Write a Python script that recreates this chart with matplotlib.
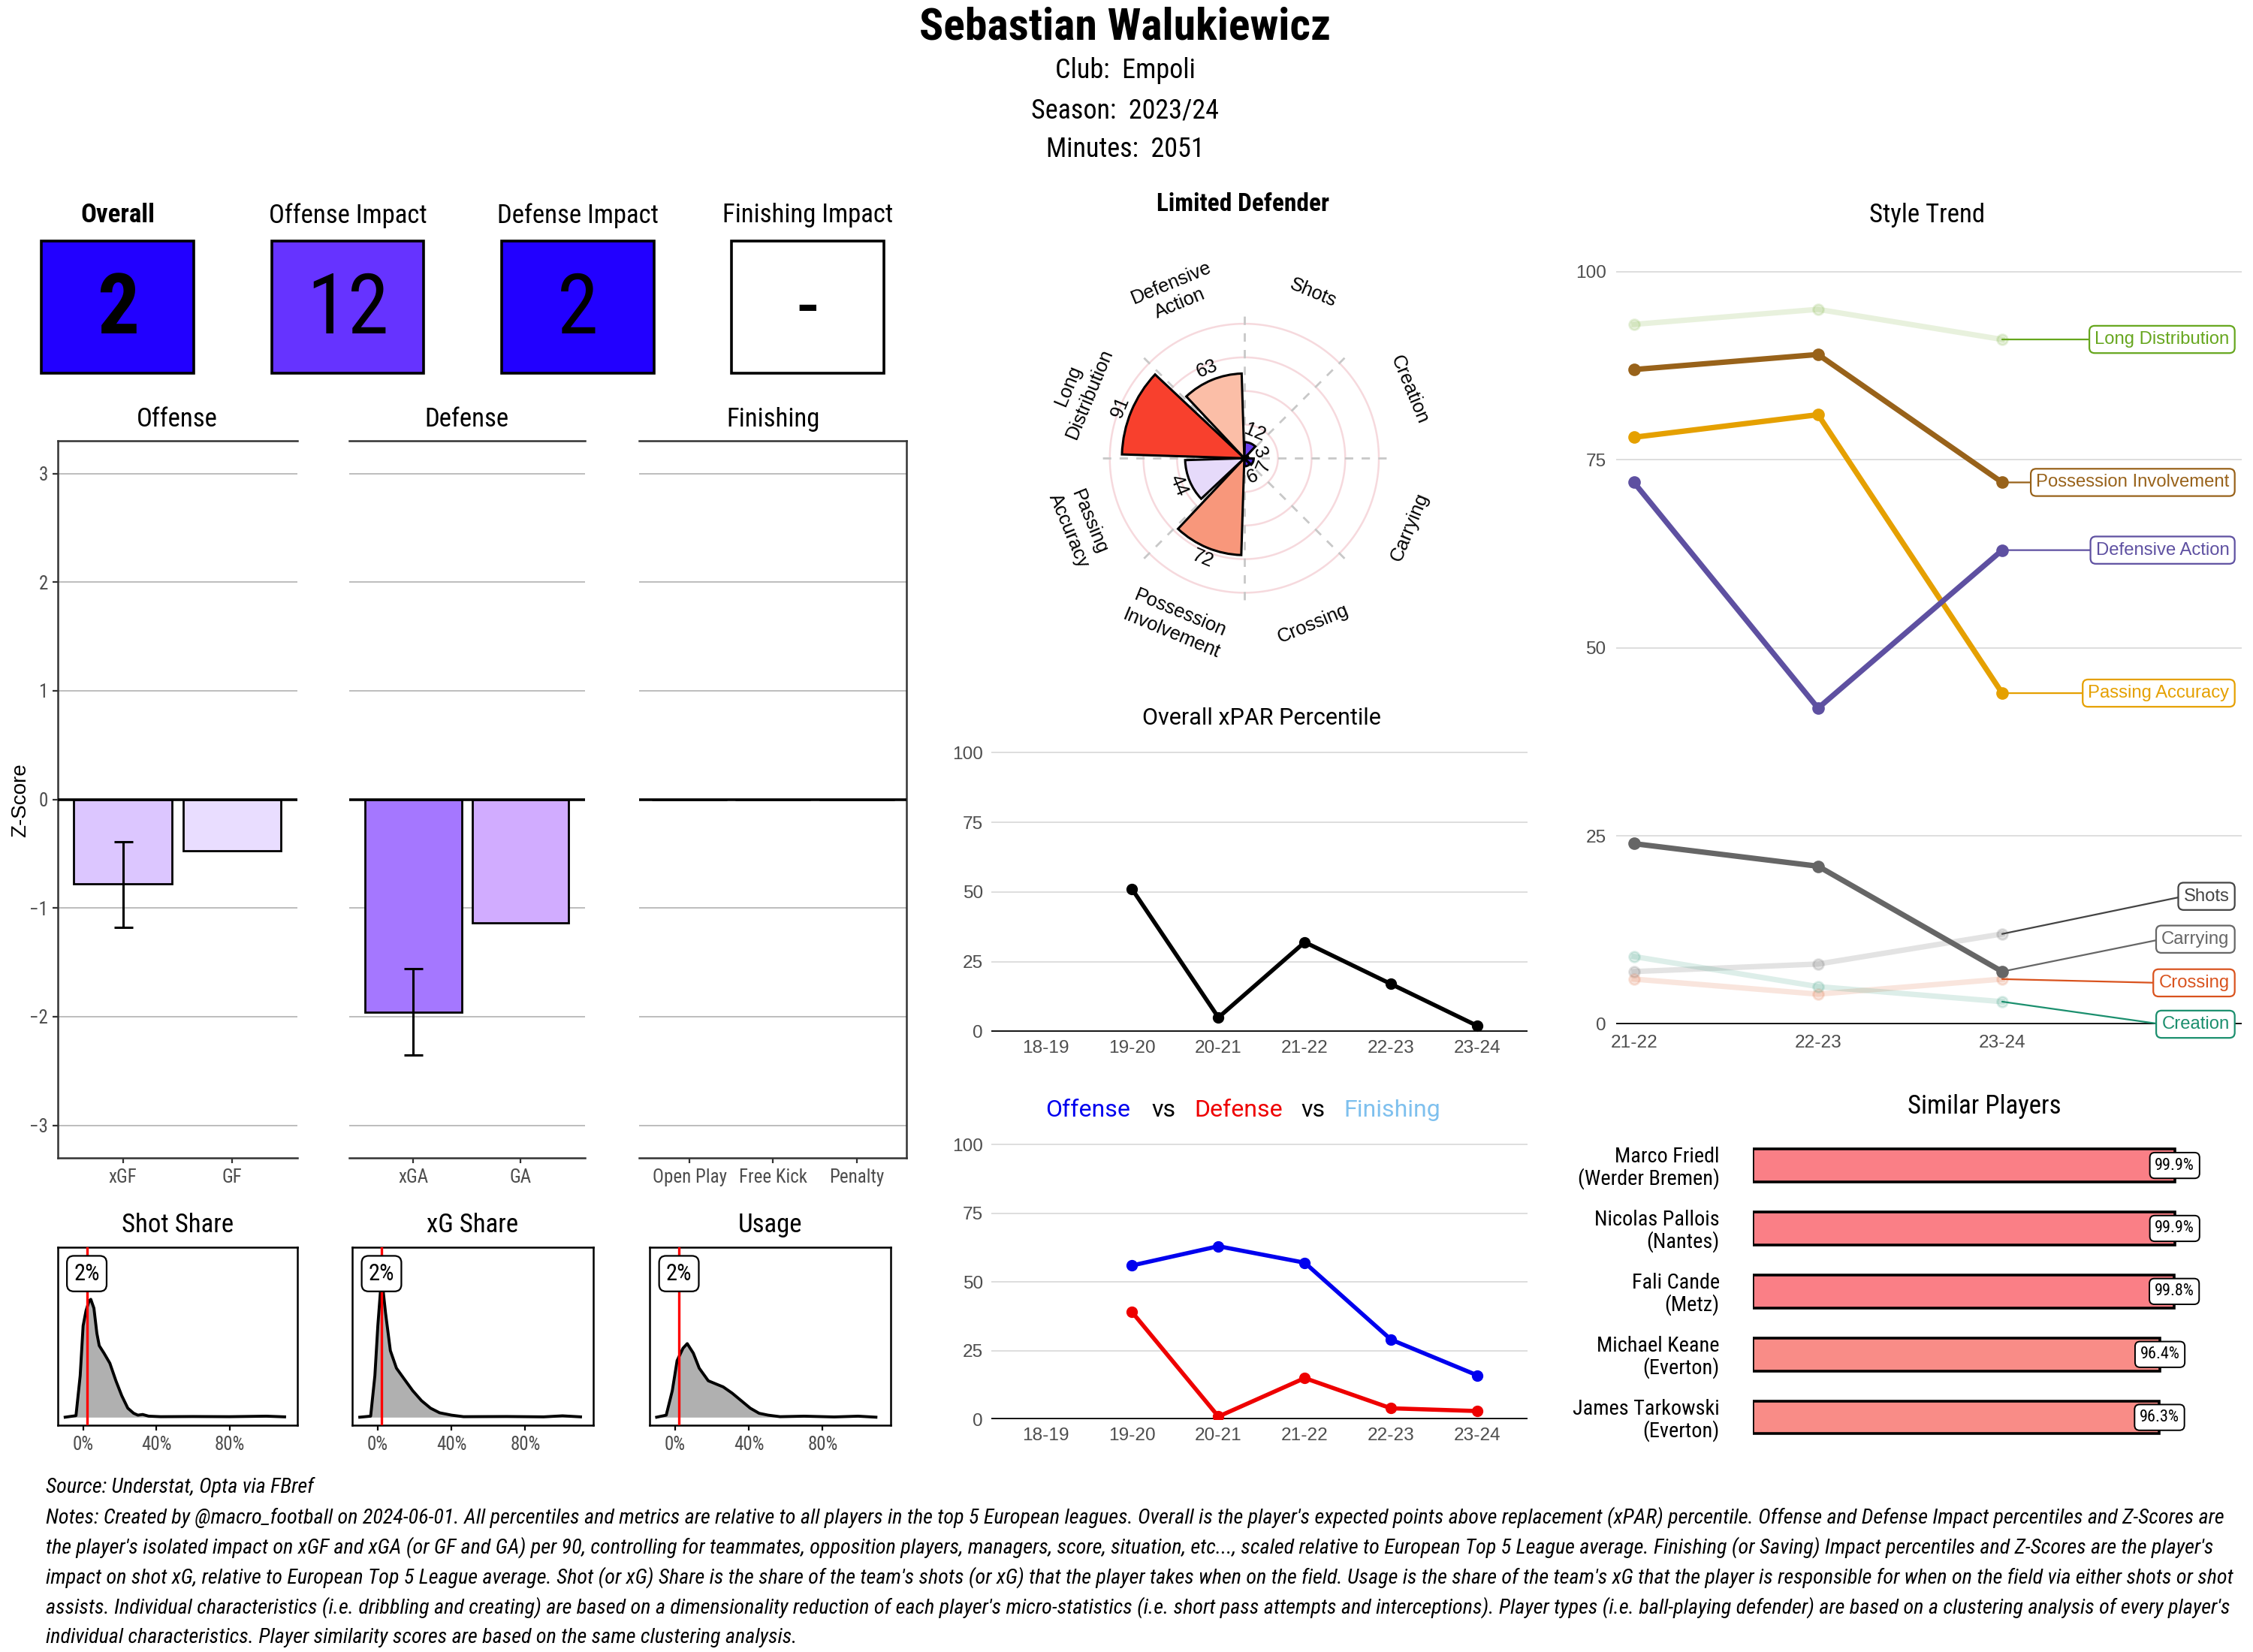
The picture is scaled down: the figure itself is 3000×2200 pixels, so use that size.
import numpy as np
import matplotlib
matplotlib.use("Agg")
import matplotlib.pyplot as plt
from matplotlib import font_manager as fm
from matplotlib.patches import Rectangle
import matplotlib.transforms as mtransforms

# ---------------- fonts ----------------
_names = {f.name for f in fm.fontManager.ttflist}
if "Roboto Condensed" in _names:
    COND, CS = "Roboto Condensed", 1.0
elif "Liberation Sans Narrow" in _names:
    COND, CS = "Liberation Sans Narrow", 1.0
else:
    COND, CS = "Roboto", 0.87
SANS = "Liberation Sans" if "Liberation Sans" in _names else "DejaVu Sans"
ROBO = "Roboto" if "Roboto" in _names else SANS
plt.rcParams["font.family"] = [COND, "DejaVu Sans"]

# ---------------- data ----------------
player = "Sebastian Walukiewicz"
club = "Empoli"
season = "2023/24"
minutes = 2051

summary_titles = ["Overall", "Offense Impact", "Defense Impact", "Finishing Impact"]
summary_values = ["2", "12", "2", "-"]
summary_colors = ["#2200FF", "#6633FF", "#2200FF", "#FFFFFF"]

off_cats = ["xGF", "GF"]
off_z = [-0.78, -0.47]
off_colors = ["#DCC6FF", "#E9DDFF"]
def_cats = ["xGA", "GA"]
def_z = [-1.96, -1.14]
def_colors = ["#A577FF", "#D1ACFF"]
fin_cats = ["Open Play", "Free Kick", "Penalty"]
fin_z = [0.0, 0.0, 0.0]
fin_colors = ["#FFFFFF", "#FFFFFF", "#FFFFFF"]
xgf_err = [-1.18, -0.39]
xga_err = [-2.35, -1.56]

# density curves (x in %, height as share of panel)
shot_x = [-9.8, -3.9, -1.6, 0.0, 1.6, 3.3, 4.2, 5.9, 7.5, 8.8, 11.4, 14.6, 17.9, 21.1, 24.4, 27.6, 29.9, 32.5, 35.8, 42.3, 60, 80, 100, 110]
shot_h = [0.0, 0.009, 0.244, 0.537, 0.626, 0.684, 0.692, 0.640, 0.493, 0.420, 0.376, 0.317, 0.214, 0.126, 0.053, 0.023, 0.012, 0.016, 0.006, 0.003, 0.004, 0.003, 0.006, 0.002]
xg_x = [-9.8, -3.9, -1.6, 0.0, 1.6, 2.6, 4.2, 6.8, 10.1, 14.0, 18.9, 23.7, 28.6, 33.5, 40.0, 46.5, 70, 90, 100.2, 110]
xg_h = [0.0, 0.006, 0.244, 0.537, 0.765, 0.772, 0.611, 0.391, 0.288, 0.229, 0.156, 0.097, 0.053, 0.026, 0.012, 0.003, 0.004, 0.002, 0.008, 0.002]
usage_x = [-10.1, -4.9, -1.6, 1.0, 4.2, 6.5, 9.8, 13.0, 17.9, 22.8, 26.0, 30.9, 35.8, 40.7, 45.5, 50.4, 56.9, 69.9, 86.2, 99.2, 108.9]
usage_h = [0.0, 0.012, 0.156, 0.332, 0.405, 0.432, 0.376, 0.288, 0.214, 0.192, 0.178, 0.141, 0.097, 0.053, 0.023, 0.012, 0.003, 0.006, 0.0015, 0.006, 0.0]
shot_share = 2
xg_share = 2
usage = 2

radar_title = "Limited Defender"
radar_cats = ["Shots", "Creation", "Carrying", "Crossing", "Possession\nInvolvement",
              "Passing\nAccuracy", "Long\nDistribution", "Defensive\nAction"]
radar_vals = [12, 3, 7, 6, 72, 44, 91, 63]
radar_colors = ["#6A3EF0", "#3A12D2", "#4A26DE", "#4520DA", "#F8977B", "#E6DAFA", "#F8402D", "#FBBEA7"]

seasons = ["18-19", "19-20", "20-21", "21-22", "22-23", "23-24"]
xpar = [np.nan, 51, 5, 32, 17, 2]
offense_pct = [np.nan, 56, 63, 57, 29, 16]
defense_pct = [np.nan, 39, 1, 15, 4, 3]

style_seasons = ["21-22", "22-23", "23-24"]
style_names = ["Long Distribution", "Shots", "Crossing", "Creation",
               "Possession Involvement", "Passing Accuracy", "Defensive Action", "Carrying"]
long_dist = [93, 95, 91]
shots = [7, 8, 12]
crossing = [6, 4, 6]
creation = [9, 5, 3]
possession = [87, 89, 72]
passing_acc = [78, 81, 44]
defensive_act = [72, 42, 63]
carrying = [24, 21, 7]
style_highlight = [False, False, False, False, True, True, True, True]
style_colors = ["#66A61E", "#444444", "#D9531E", "#1B8F6E", "#98621A", "#E5A000", "#5E50A1", "#666666"]
style_label_y = [91, 17, 5.5, 0, 72, 44, 63, 11.3]

sim_names = ["Marco Friedl", "Nicolas Pallois", "Fali Cande", "Michael Keane", "James Tarkowski"]
sim_clubs = ["Werder Bremen", "Nantes", "Metz", "Everton", "Everton"]
sim_vals = [99.9, 99.9, 99.8, 96.4, 96.3]
sim_colors = ["#FA7F86", "#FA7F86", "#FA7F86", "#F98C87", "#F98C87"]

source = "Source: Understat, Opta via FBref"
notes = [
    "Notes: Created by @macro_football on 2024-06-01. All percentiles and metrics are relative to all players in the top 5 European leagues. Overall is the player's expected points above replacement (xPAR) percentile. Offense and Defense Impact percentiles and Z-Scores are",
    "the player's isolated impact on xGF and xGA (or GF and GA) per 90, controlling for teammates, opposition players, managers, score, situation, etc..., scaled relative to European Top 5 League average. Finishing (or Saving) Impact percentiles and Z-Scores are the player's",
    "impact on shot xG, relative to European Top 5 League average. Shot (or xG) Share is the share of the team's shots (or xG) that the player takes when on the field. Usage is the share of the team's xG that the player is responsible for when on the field via either shots or shot",
    "assists. Individual characteristics (i.e. dribbling and creating) are based on a dimensionality reduction of each player's micro-statistics (i.e. short pass attempts and interceptions). Player types (i.e. ball-playing defender) are based on a clustering analysis of every player's",
    "individual characteristics. Player similarity scores are based on the same clustering analysis.",
]

# ---------------- layout helpers ----------------
W, H = 1568.0, 1150.0
fig = plt.figure(figsize=(15, 11), dpi=200)
fig.patch.set_facecolor("white")


def R(x0, y0, x1, y1):
    return [x0 / W, 1 - y1 / H, (x1 - x0) / W, (y1 - y0) / H]


def P(x, y):
    return (x / W, 1 - y / H)


def style_ticks(ax, family, size, color="#4D4D4D"):
    for lbl in ax.get_xticklabels() + ax.get_yticklabels():
        lbl.set_family(family)
        lbl.set_fontsize(size)
        lbl.set_color(color)


# ---------------- header ----------------
fig.text(*P(783, 19), player, ha="center", va="center", fontsize=21.5 * CS, fontweight="bold")
fig.text(*P(783, 49), f"Club:  {club}", ha="center", va="center", fontsize=13 * CS)
fig.text(*P(783, 77), f"Season:  {season}", ha="center", va="center", fontsize=13 * CS)
fig.text(*P(783, 104), f"Minutes:  {minutes}", ha="center", va="center", fontsize=13 * CS)

# ---------------- summary boxes ----------------
box_x0 = [29, 189, 349, 509]
for i, (t, v, c) in enumerate(zip(summary_titles, summary_values, summary_colors)):
    x0 = box_x0[i]
    fig.add_artist(Rectangle(P(x0, 260), 106 / W, 92 / H, transform=fig.transFigure,
                             facecolor=c, edgecolor="black", lw=1.3))
    fig.text(*P(x0 + 53, 150), t, ha="center", va="center", fontsize=12.5 * CS,
             fontweight="bold" if i == 0 else "normal")
    fig.text(*P(x0 + 53, 216), v, ha="center", va="center", fontsize=40 * CS,
             fontweight="bold" if i == 0 else "normal")

# ---------------- z-score bars ----------------
panels = [
    ((40, 307, 207, 806), "Offense", off_cats, off_z, off_colors, xgf_err, ("left", "top", "bottom")),
    ((243, 307, 407, 806), "Defense", def_cats, def_z, def_colors, xga_err, ("top", "bottom")),
    ((445, 307, 631, 806), "Finishing", fin_cats, fin_z, fin_colors, None, ("top", "bottom", "right")),
]
for k, (rc, title, cats, vals, cols, err, spines) in enumerate(panels):
    ax = fig.add_axes(R(*rc))
    x = np.arange(len(cats))
    ax.set_yticks(range(-3, 4))
    ax.grid(axis="y", color="#BDBDBD", lw=0.7)
    ax.set_axisbelow(True)
    ax.bar(x, vals, width=0.9, color=cols, edgecolor="black", lw=1.0, zorder=2)
    ax.axhline(0, color="black", lw=1.3, zorder=3)
    if err is not None:
        ax.errorbar([x[0]], [err[0]], yerr=[[0], [err[1] - err[0]]], fmt="none",
                    ecolor="black", elinewidth=1.1, capsize=4.5, capthick=1.1, zorder=4)
    ax.set_xlim(-0.6, len(cats) - 0.4)
    ax.set_ylim(-3.3, 3.3)
    ax.set_xticks(x, cats)
    for s in ["left", "right", "top", "bottom"]:
        ax.spines[s].set_visible(s in spines)
        ax.spines[s].set_color("#333333")
        ax.spines[s].set_linewidth(0.9)
    ax.tick_params(axis="x", length=2.5, width=0.8, pad=2.5, color="#333333")
    if k == 0:
        ax.tick_params(axis="y", length=2.5, width=0.8, pad=2, color="#333333")
    else:
        ax.tick_params(axis="y", length=0, labelleft=False)
    style_ticks(ax, [COND, "DejaVu Sans"], 9 * CS)
    fig.text(*P((rc[0] + rc[2]) / 2, 292), title, ha="center", va="center", fontsize=12.5 * CS)
fig.text(*P(14, 557), "Z-Score", rotation=90, ha="center", va="center", fontsize=10, family=SANS)

# ---------------- density panels ----------------
dens = [
    ((40, 868, 207, 992), "Shot Share", shot_x, shot_h, shot_share),
    ((245, 868, 413, 992), "xG Share", xg_x, xg_h, xg_share),
    ((452, 868, 620, 992), "Usage", usage_x, usage_h, usage),
]
for rc, title, xs, hs, val in dens:
    ax = fig.add_axes(R(*rc))
    xs = np.array(xs) / 100.0
    ax.fill_between(xs, hs, 0, color="#B0B0B0", lw=0, zorder=1)
    ax.plot(xs, hs, color="black", lw=1.4, zorder=2)
    ax.axvline(val / 100.0, color="red", lw=1.2, zorder=3)
    ax.set_xlim(-0.14, 1.17)
    ax.set_ylim(-0.046, 1.0)
    ax.set_xticks([0, 0.4, 0.8], ["0%", "40%", "80%"])
    ax.set_yticks([])
    for s in ax.spines.values():
        s.set_color("black")
        s.set_linewidth(0.9)
    ax.tick_params(axis="x", length=2.5, width=0.8, pad=2.5)
    style_ticks(ax, [COND, "DejaVu Sans"], 9 * CS)
    tr = mtransforms.blended_transform_factory(ax.transData, ax.transAxes)
    ax.text(val / 100.0, 0.85, f"{val}%", transform=tr, ha="center", va="center",
            fontsize=11 * CS, zorder=5,
            bbox=dict(boxstyle="round,pad=0.3", fc="white", ec="black", lw=0.8))
    fig.text(*P((rc[0] + rc[2]) / 2, 853), title, ha="center", va="center", fontsize=12.5 * CS)

# ---------------- radar ----------------
fig.text(*P(865, 142), radar_title, ha="center", va="center", fontsize=12 * CS, fontweight="bold")
rax = fig.add_axes(R(866 - 103, 319 - 103, 866 + 103, 319 + 103), projection="polar")
rax.set_theta_zero_location("N")
rax.set_theta_direction(-1)
rax.set_ylim(0, 110)
rax.axis("off")
n = len(radar_cats)
sector = 2 * np.pi / n
theta = (np.arange(n) + 0.5) * sector
tt = np.linspace(0, 2 * np.pi, 361)
for r in [25, 50, 75, 100]:
    rax.plot(tt, np.full_like(tt, r), color="#F6D9DD", lw=0.9, zorder=1)
for b in np.arange(n) * sector:
    rax.plot([b, b], [0, 108], color="#C8C8C8", lw=1.0, ls=(0, (4, 4)), zorder=1)
rax.bar(theta, radar_vals, width=sector * 0.92, color=radar_colors, edgecolor="black", lw=1.1, zorder=3)
for th, cat, v in zip(theta, radar_cats, radar_vals):
    phi = np.degrees(th)
    rot = -phi if (phi < 90 or phi > 270) else 180 - phi
    rax.text(th, 133, cat, rotation=rot, rotation_mode="anchor", ha="center", va="center",
             fontsize=9.2, family=SANS, clip_on=False, linespacing=1.3)
    rax.text(th, v + 9, str(v), rotation=rot, rotation_mode="anchor", ha="center", va="center",
             fontsize=9.2, family=SANS, clip_on=False, zorder=5)

# ---------------- xPAR line ----------------
def line_axes(rc):
    ax = fig.add_axes(R(*rc))
    ax.set_xlim(-0.63, 5.58)
    ax.set_ylim(0, 102.5)
    ax.set_yticks([0, 25, 50, 75, 100])
    ax.set_xticks(np.arange(len(seasons)), seasons)
    ax.grid(axis="y", color="#DEDEDE", lw=0.7)
    ax.set_axisbelow(True)
    for s in ax.spines.values():
        s.set_visible(False)
    ax.axhline(0, color="black", lw=1.3, zorder=2)
    ax.tick_params(length=0, pad=4)
    style_ticks(ax, SANS, 8.8)
    return ax


ax = line_axes((690, 519, 1063, 718))
xs = np.arange(len(seasons))
ax.plot(xs, xpar, color="black", lw=2.0, marker="o", ms=4.5, zorder=3)
fig.text(*P(878, 500), "Overall xPAR Percentile", ha="center", va="center", fontsize=11, family=ROBO)

ax = line_axes((690, 792, 1063, 988))
ax.plot(xs, offense_pct, color="#0000EE", lw=2.0, marker="o", ms=4.5, zorder=3)
ax.plot(xs, defense_pct, color="#EE0000", lw=2.0, marker="o", ms=4.5, zorder=3)
for word, xc, col in [("Offense", 757, "#0000EE"), ("vs", 810, "black"), ("Defense", 862, "#EE0000"),
                      ("vs", 914, "black"), ("Finishing", 969, "#7EC0EE")]:
    fig.text(*P(xc, 773), word, ha="center", va="center", fontsize=11.5, family=ROBO, color=col)

# ---------------- style trend ----------------
fig.text(*P(1341, 150), "Style Trend", ha="center", va="center", fontsize=12.5 * CS)
sax = fig.add_axes(R(1125, 186, 1560, 713))
sx = np.arange(len(style_seasons))
sax.set_xlim(-0.095, 3.3)
sax.set_ylim(0, 100.6)
sax.set_yticks([0, 25, 50, 75, 100])
sax.set_xticks(sx, style_seasons)
sax.grid(axis="y", color="#DEDEDE", lw=0.7)
sax.set_axisbelow(True)
for s in sax.spines.values():
    s.set_visible(False)
sax.axhline(0, color="black", lw=1.3, zorder=2)
sax.tick_params(length=0, pad=5)
style_ticks(sax, SANS, 8.8)
style_series = [long_dist, shots, crossing, creation, possession, passing_acc, defensive_act, carrying]
for name, vals, hl, col, ly in zip(style_names, style_series, style_highlight, style_colors, style_label_y):
    a = 1.0 if hl else 0.15
    sax.plot(sx, vals, color=col, alpha=a, lw=2.6, marker="o", ms=5, zorder=4 if hl else 3)
    sax.annotate(name, xy=(sx[-1], vals[-1]), xytext=(3.234, ly), textcoords="data",
                 ha="right", va="center", color=col, fontsize=8.6, family=SANS,
                 bbox=dict(boxstyle="round,pad=0.3", fc="white", ec=col, lw=0.8),
                 arrowprops=dict(arrowstyle="-", color=col, lw=0.8, shrinkA=0, shrinkB=0, relpos=(0, 0.5)),
                 annotation_clip=False, zorder=6)

# ---------------- similar players ----------------
fig.text(*P(1381, 770), "Similar Players", ha="center", va="center", fontsize=12.5 * CS)
pax = fig.add_axes(R(1220, 785, 1542, 1013))
py = np.arange(len(sim_names))
pax.barh(py, sim_vals, height=0.52, color=sim_colors, edgecolor="black", lw=1.3)
pax.set_xlim(0, 109.6)
pax.set_ylim(len(sim_names) - 0.4, -0.6)
pax.set_xticks([])
pax.set_yticks(py, [f"{nm}\n({cl})" for nm, cl in zip(sim_names, sim_clubs)])
for s in pax.spines.values():
    s.set_visible(False)
pax.tick_params(length=0, pad=16)
for lbl in pax.get_yticklabels():
    lbl.set_fontsize(10.2 * CS)
    lbl.set_linespacing(1.05)
for yv, v in zip(py, sim_vals):
    pax.text(v, yv, f"{v}%", ha="center", va="center", fontsize=8 * CS, zorder=5,
             bbox=dict(boxstyle="round,pad=0.3", fc="white", ec="black", lw=0.7))

# ---------------- notes ----------------
src = fig.text(*P(32, 1035), source, ha="left", va="center", fontsize=10, style="italic")
note_texts = []
for i, line in enumerate(notes):
    note_texts.append(fig.text(*P(32, 1056 + 21 * i), line, ha="left", va="center",
                               fontsize=10, style="italic"))
renderer = fig.canvas.get_renderer()
w = note_texts[0].get_window_extent(renderer).width
target = (1545 - 32) * 3000 / W
fs = 10 * target / w
for t in note_texts + [src]:
    t.set_fontsize(fs)

fig.savefig("out.png", dpi=200, facecolor="white")
